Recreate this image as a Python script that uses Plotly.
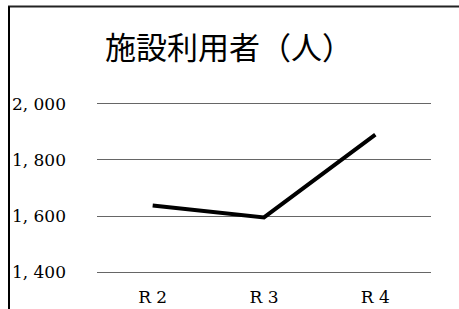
import plotly.graph_objects as go

categories = ["R2", "R3", "R4"]
cat_labels = ["R 2", "R 3", "R 4"]
users = [1638, 1595, 1890]
y_ticks = [1400, 1600, 1800, 2000]
y_tick_text = ["1, 400", "1, 600", "1, 800", "2, 000"]

W, H = 459, 309
# pixel positions of the 2000 and 1400 gridlines and plot sides
L, R = 97, 431
Y2000, Y1400 = 104, 272
pad = 10  # value padding beyond the outer gridlines
ppv = (Y1400 - Y2000) / 600.0
T = Y2000 - pad * ppv
B = Y1400 + pad * ppv
pw, ph = R - L, B - T

def px_x(x):
    return (x - L) / pw

def px_y(y):
    return (B - y) / ph

fig = go.Figure()
fig.add_trace(go.Scatter(
    x=categories, y=users, mode="lines",
    line=dict(color="black", width=4),
    hoverinfo="skip", showlegend=False,
))

fig.update_layout(
    width=W, height=H,
    margin=dict(l=L, r=W - R, t=T, b=H - B, autoexpand=False),
    paper_bgcolor="white", plot_bgcolor="white",
    title=dict(
        text="施設利用者（人）",
        x=px_x(229), xref="paper", xanchor="center",
        y=1 - 48 / H, yref="container", yanchor="middle",
        font=dict(family="Noto Sans CJK JP", size=31, color="black"),
    ),
    xaxis=dict(
        type="category", range=[-0.5, 2.5],
        tickvals=categories, ticktext=cat_labels,
        showgrid=False, zeroline=False, showline=False, ticks="",
        ticklabelstandoff=10, automargin=False,
        tickfont=dict(family="DejaVu Serif", size=17, color="black"),
    ),
    yaxis=dict(
        range=[1400 - pad, 2000 + pad],
        tickvals=y_ticks, ticktext=y_tick_text,
        showgrid=True, gridcolor="#666", gridwidth=1,
        zeroline=False, showline=False, ticks="",
        ticklabelstandoff=30, automargin=False,
        tickfont=dict(family="DejaVu Serif", size=17, color="black"),
    ),
    shapes=[
        dict(type="line", xref="paper", yref="paper",
             x0=px_x(8), x1=px_x(W + 5), y0=px_y(7), y1=px_y(7),
             line=dict(color="#222", width=2)),
        dict(type="line", xref="paper", yref="paper",
             x0=px_x(9), x1=px_x(9), y0=px_y(7), y1=px_y(H + 5),
             line=dict(color="black", width=2)),
    ],
)

fig.write_html(
    "out.html",
    config={"displayModeBar": False},
    post_script="document.body.style.margin='0';document.body.style.overflow='hidden';",
)
